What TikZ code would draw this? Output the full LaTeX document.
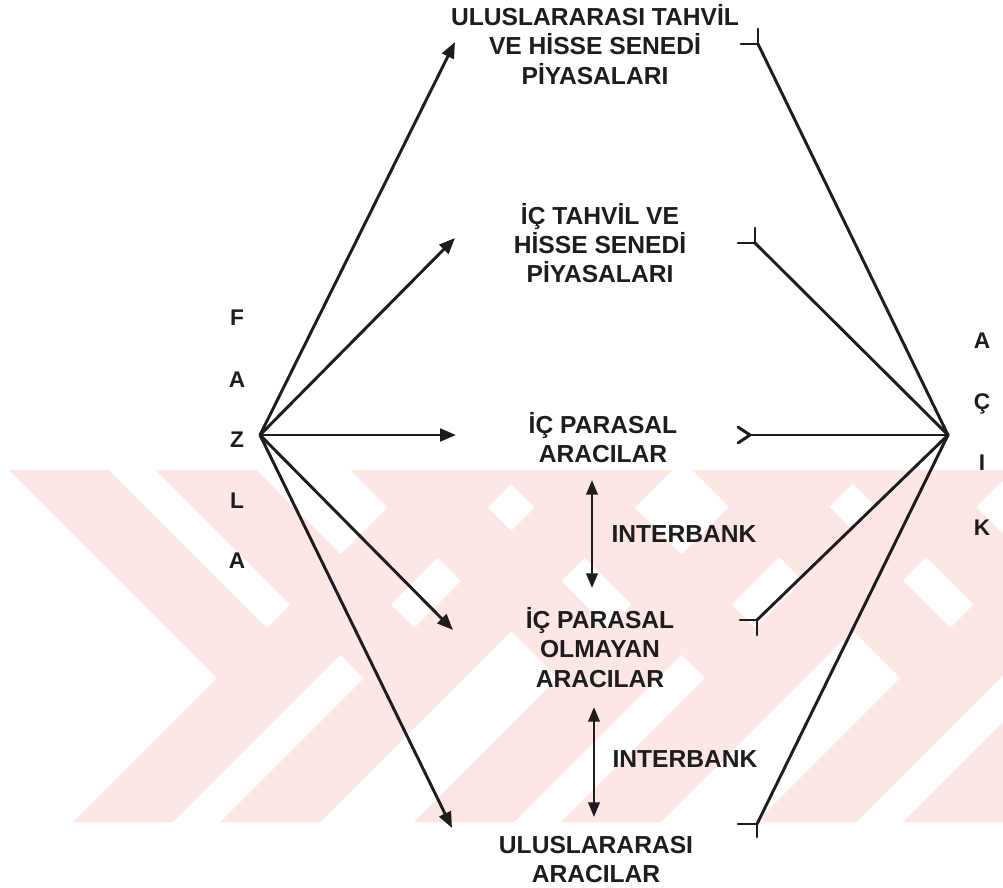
\documentclass[tikz,border=0pt]{standalone}
\usepackage{fontspec}
\setmainfont{Liberation Sans}
\usetikzlibrary{arrows.meta}
\definecolor{wm}{RGB}{252,231,228}
\definecolor{ink}{RGB}{30,28,28}
\newcommand\stk[1]{\vtop{\baselineskip=22.1pt\lineskiplimit=-50pt\lineskip=0pt\let\\\cr\halign{\hfil##\hfil\cr#1\crcr}}}
\newcommand\chev[1]{%
  \foreach \o in {0,147}{%
    \fill[wm] ({#1-208+\o},470) -- ({#1-108+\o},470) -- ({#1+\o+100},678) -- ({#1+\o},678) -- cycle;
    \fill[wm] ({#1+208+\o},470) -- ({#1+308+\o},470) -- ({#1-44+\o},822) -- ({#1-144+\o},822) -- cycle;
  }}
\begin{document}
\begin{tikzpicture}[x=0.75pt,y=-0.75pt,
  lbl/.style={font=\fontsize{18.45}{22.1}\selectfont\bfseries, text=ink, inner sep=0pt, anchor=base},
  side/.style={font=\fontsize{17}{21}\selectfont\bfseries, text=ink, inner sep=0pt, anchor=base},
  flow/.style={draw=ink, line width=2.2pt, -{Triangle[length=12pt,width=9.5pt]}},
  link/.style={draw=ink, line width=2.2pt, line cap=round},
  prong/.style={draw=ink, line width=2.2pt, line cap=round, line join=round},
  ib/.style={draw=ink, line width=1.9pt, {Triangle[length=11pt,width=8.5pt]}-{Triangle[length=11pt,width=8.5pt]}}]
\useasboundingbox (0,0) rectangle (1003,888);
\fill[white] (0,0) rectangle (1003,888);
% watermark
\begin{scope}
  \clip (0,470) rectangle (1003,822);
  \chev{217}\chev{558}\chev{900}
\end{scope}
% side letters
\node[side] (f1) at (237,325) {F};
\node[side] (f2) at (237,387) {A};
\node[side] (f3) at (237,447) {Z};
\node[side] (f4) at (237,508) {L};
\node[side] (f5) at (237,568) {A};
\node[side] (k1) at (982,348) {A};
\node[side] (k2) at (982,409) {Ç};
\node[side] (k3) at (982,470) {I};
\node[side] (k4) at (982,535) {K};
% boxes
\node[lbl] (n1) at (595,25.5) {\stk{ULUSLARARASI TAHVİL\\VE HİSSE SENEDİ\\PİYASALARI}};
\node[lbl] (n2) at (600,224) {\stk{İÇ TAHVİL VE\\HİSSE SENEDİ\\PİYASALARI}};
\node[lbl] (n3) at (603,433.5) {\stk{İÇ PARASAL\\ARACILAR}};
\node[lbl] (n4) at (600,628.5) {\stk{İÇ PARASAL\\OLMAYAN\\ARACILAR}};
\node[lbl] (n5) at (596,853) {\stk{ULUSLARARASI\\ARACILAR}};
\node[lbl] (ib1l) at (684,542) {INTERBANK};
\node[lbl] (ib2l) at (685,767) {INTERBANK};
% hubs and ends
\coordinate (lv) at (260,435);
\coordinate (rv) at (948,435);
\coordinate (a1) at (455,42);
\coordinate (a2) at (455,238);
\coordinate (a3) at (456,435);
\coordinate (a4) at (453,630);
\coordinate (a5) at (452,828);
\coordinate (j1) at (758,44);
\coordinate (j2) at (755,243);
\coordinate (j3) at (750,435);
\coordinate (j4) at (757,620);
\coordinate (j5) at (757,824);
\coordinate (ib1t) at (592,480);
\coordinate (ib1b) at (592,588);
\coordinate (ib2t) at (594,707);
\coordinate (ib2b) at (594,817);
% flows from FAZLA
\foreach \t in {a1,a2,a3,a4,a5} \draw[flow] (lv) -- (\t);
% links to ACIK
\foreach \t in {j1,j2,j3,j4,j5} \draw[link] (rv) -- (\t);
\draw[prong] ([shift={(-17,0)}]j1) -- (j1) -- ([shift={(0,-15)}]j1);
\draw[prong] ([shift={(-17,0)}]j2) -- (j2) -- ([shift={(0,-15)}]j2);
\draw[prong] ([shift={(-12,-8)}]j3) -- (j3) -- ([shift={(-12,8)}]j3);
\draw[prong] ([shift={(-17,0)}]j4) -- (j4) -- ([shift={(0,15)}]j4);
\draw[prong] ([shift={(-19,0)}]j5) -- (j5) -- ([shift={(0,13)}]j5);
% interbank
\draw[ib] (ib1t) -- (ib1b);
\draw[ib] (ib2t) -- (ib2b);
\end{tikzpicture}
\end{document}
